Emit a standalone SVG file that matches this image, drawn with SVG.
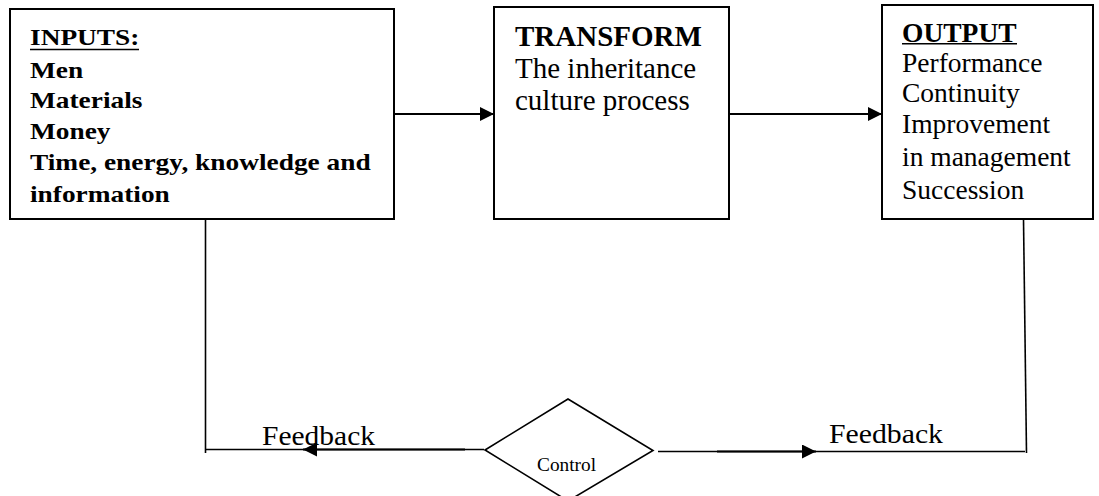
<svg xmlns="http://www.w3.org/2000/svg" width="1099" height="496" viewBox="0 0 1099 496">
<defs>
<style>
.box{fill:#fff;stroke:#000;stroke-width:2}
.ln{stroke:#000;stroke-width:1.6;fill:none}
.arr{stroke:#000;stroke-width:2.2;fill:none;marker-end:url(#ah)}
.b{font-family:"Liberation Serif","Times New Roman",serif;font-weight:bold;fill:#000}
.r{font-family:"Liberation Serif","Times New Roman",serif;fill:#000}
</style>
<marker id="ah" markerUnits="userSpaceOnUse" markerWidth="14" markerHeight="14" refX="14" refY="7" orient="auto">
<path d="M0,0 L14,7 L0,14 Z" fill="#000"/>
</marker>
</defs>
<rect width="1099" height="496" fill="#fff"/>
<g id="connectors">
<line class="arr" x1="394" y1="114" x2="494" y2="114"/>
<line class="arr" x1="729" y1="114" x2="882" y2="114"/>
<line class="ln" x1="205.5" y1="219" x2="205.5" y2="453"/>
<line class="ln" x1="205" y1="449.5" x2="484" y2="449.5"/>
<line class="arr" x1="465" y1="449.5" x2="303" y2="449.5"/>
<line class="ln" x1="658" y1="451.5" x2="1025" y2="451.5"/>
<line class="arr" x1="717" y1="451.5" x2="816" y2="451.5"/>
<line class="ln" x1="1023.5" y1="219" x2="1026.5" y2="453"/>
<text class="r" x="262" y="445" font-size="28" textLength="113" lengthAdjust="spacingAndGlyphs">Feedback</text>
<text class="r" x="829" y="443" font-size="28" textLength="114" lengthAdjust="spacingAndGlyphs">Feedback</text>
</g>
<g id="inputs">
<rect class="box" x="10" y="9" width="384" height="210"/>
<g transform="translate(30,0) scale(1.19,1)">
<text class="b" x="0" y="45.5" font-size="23">INPUTS:</text>
<text class="b" x="0" y="78" font-size="23">Men</text>
<text class="b" x="0" y="108.5" font-size="23">Materials</text>
<text class="b" x="0" y="139.5" font-size="23">Money</text>
<text class="b" x="0" y="170.5" font-size="23">Time, energy, knowledge and</text>
<text class="b" x="0" y="202" font-size="23">information</text>
</g>
<line x1="30" y1="49.5" x2="139" y2="49.5" stroke="#000" stroke-width="1.6"/>
</g>
<g id="transform">
<rect class="box" x="494" y="7" width="235" height="212"/>
<text class="b" x="515" y="45.5" font-size="29">TRANSFORM</text>
<text class="r" x="515" y="78" font-size="29">The inheritance</text>
<text class="r" x="515" y="110" font-size="29">culture process</text>
</g>
<g id="output">
<rect class="box" x="882" y="5" width="211" height="214"/>
<text class="b" x="902" y="41.5" font-size="27.5">OUTPUT</text>
<line x1="902" y1="43.8" x2="1017" y2="43.8" stroke="#000" stroke-width="1.6"/>
<text class="r" x="902" y="71.5" font-size="27.5">Performance</text>
<text class="r" x="902" y="101.5" font-size="27.5">Continuity</text>
<text class="r" x="902" y="133" font-size="27.5">Improvement</text>
<text class="r" x="902" y="165.5" font-size="27.5">in management</text>
<text class="r" x="902" y="198.5" font-size="27.5">Succession</text>
</g>
<g id="control">
<polygon points="485,450 568,399 653,450.5 568,501" fill="#fff" stroke="#000" stroke-width="1.6"/>
<text class="r" x="537" y="470.5" font-size="19" textLength="59" lengthAdjust="spacingAndGlyphs">Control</text>
</g>
</svg>
